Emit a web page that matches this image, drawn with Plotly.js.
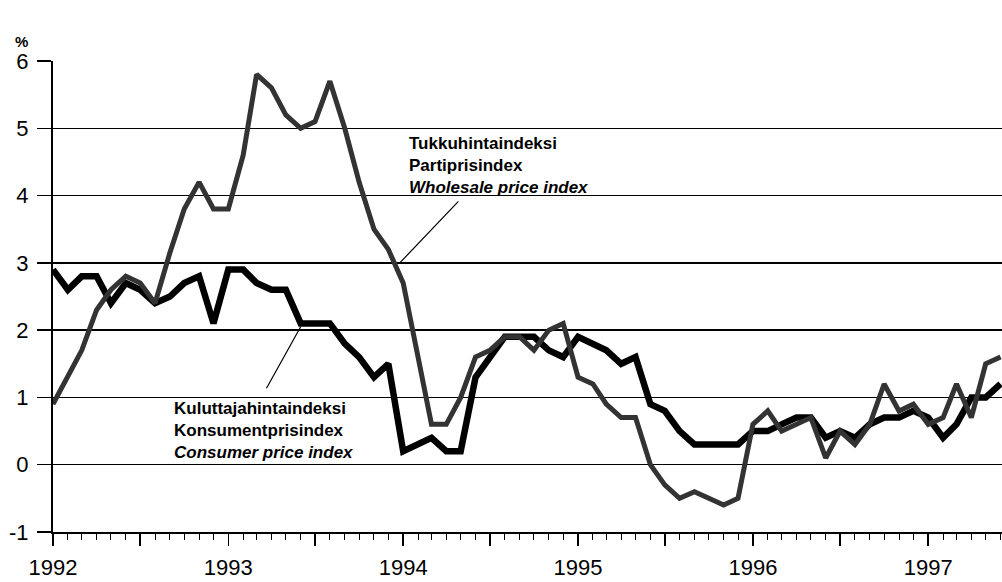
<!DOCTYPE html>
<html>
<head>
<meta charset="utf-8">
<script src="https://cdn.plot.ly/plotly-3.0.1.min.js"></script>
<style>
  body { margin: 0; background: #fff; }
  #chart { width: 1002px; height: 582px; }
</style>
</head>
<body>
<div id="chart"></div>
<script>
// monthly change, %, Jan 1992 - Jun 1997
const wholesale = [
    0.9, 1.3, 1.7, 2.3, 2.6, 2.8, 2.7, 2.4, 3.15, 3.8, 4.2, 3.8,
    3.8, 4.6, 5.8, 5.6, 5.2, 5.0, 5.1, 5.7, 5.0, 4.2, 3.5, 3.2,
    2.7, 1.6, 0.6, 0.6, 1.0, 1.6, 1.7, 1.9, 1.9, 1.7, 2.0, 2.1,
    1.3, 1.2, 0.9, 0.7, 0.7, 0.0, -0.3, -0.5, -0.4, -0.5, -0.6, -0.5,
    0.6, 0.8, 0.5, 0.6, 0.7, 0.1, 0.5, 0.3, 0.6, 1.2, 0.8, 0.9,
    0.6, 0.7, 1.2, 0.7, 1.5, 1.6
];
const consumer = [
    2.9, 2.6, 2.8, 2.8, 2.4, 2.7, 2.6, 2.4, 2.5, 2.7, 2.8, 2.1,
    2.9, 2.9, 2.7, 2.6, 2.6, 2.1, 2.1, 2.1, 1.8, 1.6, 1.3, 1.5,
    0.2, 0.3, 0.4, 0.2, 0.2, 1.3, 1.6, 1.9, 1.9, 1.9, 1.7, 1.6,
    1.9, 1.8, 1.7, 1.5, 1.6, 0.9, 0.8, 0.5, 0.3, 0.3, 0.3, 0.3,
    0.5, 0.5, 0.6, 0.7, 0.7, 0.4, 0.5, 0.4, 0.6, 0.7, 0.7, 0.8,
    0.7, 0.4, 0.6, 1.0, 1.0, 1.2
];
const years = ["1992", "1993", "1994", "1995", "1996", "1997"];
const yTicks = [-1, 0, 1, 2, 3, 4, 5, 6];
const yLabels = ["-1", "0", "1", "2", "3", "4", "5", "6"];
const wholesaleLabel = "Tukkuhintaindeksi<br>Partiprisindex<br><i>Wholesale price index</i>";
const consumerLabel = "Kuluttajahintaindeksi<br>Konsumentprisindex<br><i>Consumer price index</i>";

// one date per month, starting Jan 1992
const months = consumer.map((v, i) => {
    const y = 1992 + Math.floor(i / 12);
    const m = (i % 12) + 1;
    return y + "-" + String(m).padStart(2, "0") + "-01";
});

// long ticks every half year, labels only at the year
const tickVals = [];
const tickText = [];
years.forEach(y => {
    tickVals.push(y + "-01-01", y + "-07-01");
    tickText.push(y, "");
});

const font = "Liberation Sans, Arial, sans-serif";

const traces = [
    {
        x: months,
        y: consumer,
        mode: "lines",
        type: "scatter",
        name: "Consumer price index",
        line: { color: "#000", width: 6.5 },
    },
    {
        x: months,
        y: wholesale,
        mode: "lines",
        type: "scatter",
        name: "Wholesale price index",
        line: { color: "#333", width: 5 },
    },
];

const layout = {
    width: 1002,
    height: 582,
    showlegend: false,
    paper_bgcolor: "#fff",
    plot_bgcolor: "#fff",
    margin: { l: 53, r: 0, t: 61, b: 50 },
    font: { family: font, color: "#000" },
    xaxis: {
        type: "date",
        range: ["1992-01-01", "1997-06-04"],
        tickmode: "array",
        tickvals: tickVals,
        ticktext: tickText,
        ticks: "outside",
        ticklen: 12,
        tickwidth: 1.5,
        tickcolor: "#000",
        ticklabelstandoff: 3,
        tickfont: { family: font, size: 22 },
        showgrid: false,
        zeroline: false,
        showline: true,
        linecolor: "#000",
        linewidth: 2,
        minor: {
            tickmode: "linear",
            tick0: "1992-01-01",
            dtick: "M1",
            ticks: "outside",
            ticklen: 6,
            tickwidth: 1,
            tickcolor: "#000",
            showgrid: false,
        },
    },
    yaxis: {
        range: [-1, 6],
        tickmode: "array",
        tickvals: yTicks,
        ticktext: yLabels,
        ticks: "outside",
        ticklen: 14,
        tickwidth: 1.5,
        tickcolor: "#000",
        ticklabelstandoff: 4,
        tickfont: { family: font, size: 22 },
        showgrid: true,
        gridcolor: "#000",
        gridwidth: 1.5,
        zeroline: false,
        showline: true,
        linecolor: "#000",
        linewidth: 2,
    },
    annotations: [
        {
            text: "<b>%</b>",
            xref: "paper", yref: "paper",
            x: -0.033, y: 1.042,
            xanchor: "center", yanchor: "middle",
            showarrow: false,
            font: { family: font, size: 15 },
        },
        {
            text: wholesaleLabel,
            x: "1994-01-09", y: 4.95,
            xanchor: "left", yanchor: "top",
            align: "left",
            showarrow: false,
            font: { family: font, size: 17, weight: "bold" },
        },
        {
            text: consumerLabel,
            x: "1992-09-06", y: 1.0,
            xanchor: "left", yanchor: "top",
            align: "left",
            showarrow: false,
            font: { family: font, size: 17, weight: "bold" },
        },
        {
            // leader line to the wholesale curve
            text: "",
            x: "1993-12-25", y: 3.0,
            ax: 60, ay: -63,
            showarrow: true,
            arrowhead: 0,
            arrowwidth: 1.2,
            arrowcolor: "#000",
        },
        {
            // leader line to the consumer curve
            text: "",
            x: "1993-06-01", y: 2.05,
            ax: -35, ay: 63,
            showarrow: true,
            arrowhead: 0,
            arrowwidth: 1.2,
            arrowcolor: "#000",
        },
    ],
};

Plotly.newPlot("chart", traces, layout, { displayModeBar: false, staticPlot: true });
</script>
</body>
</html>
